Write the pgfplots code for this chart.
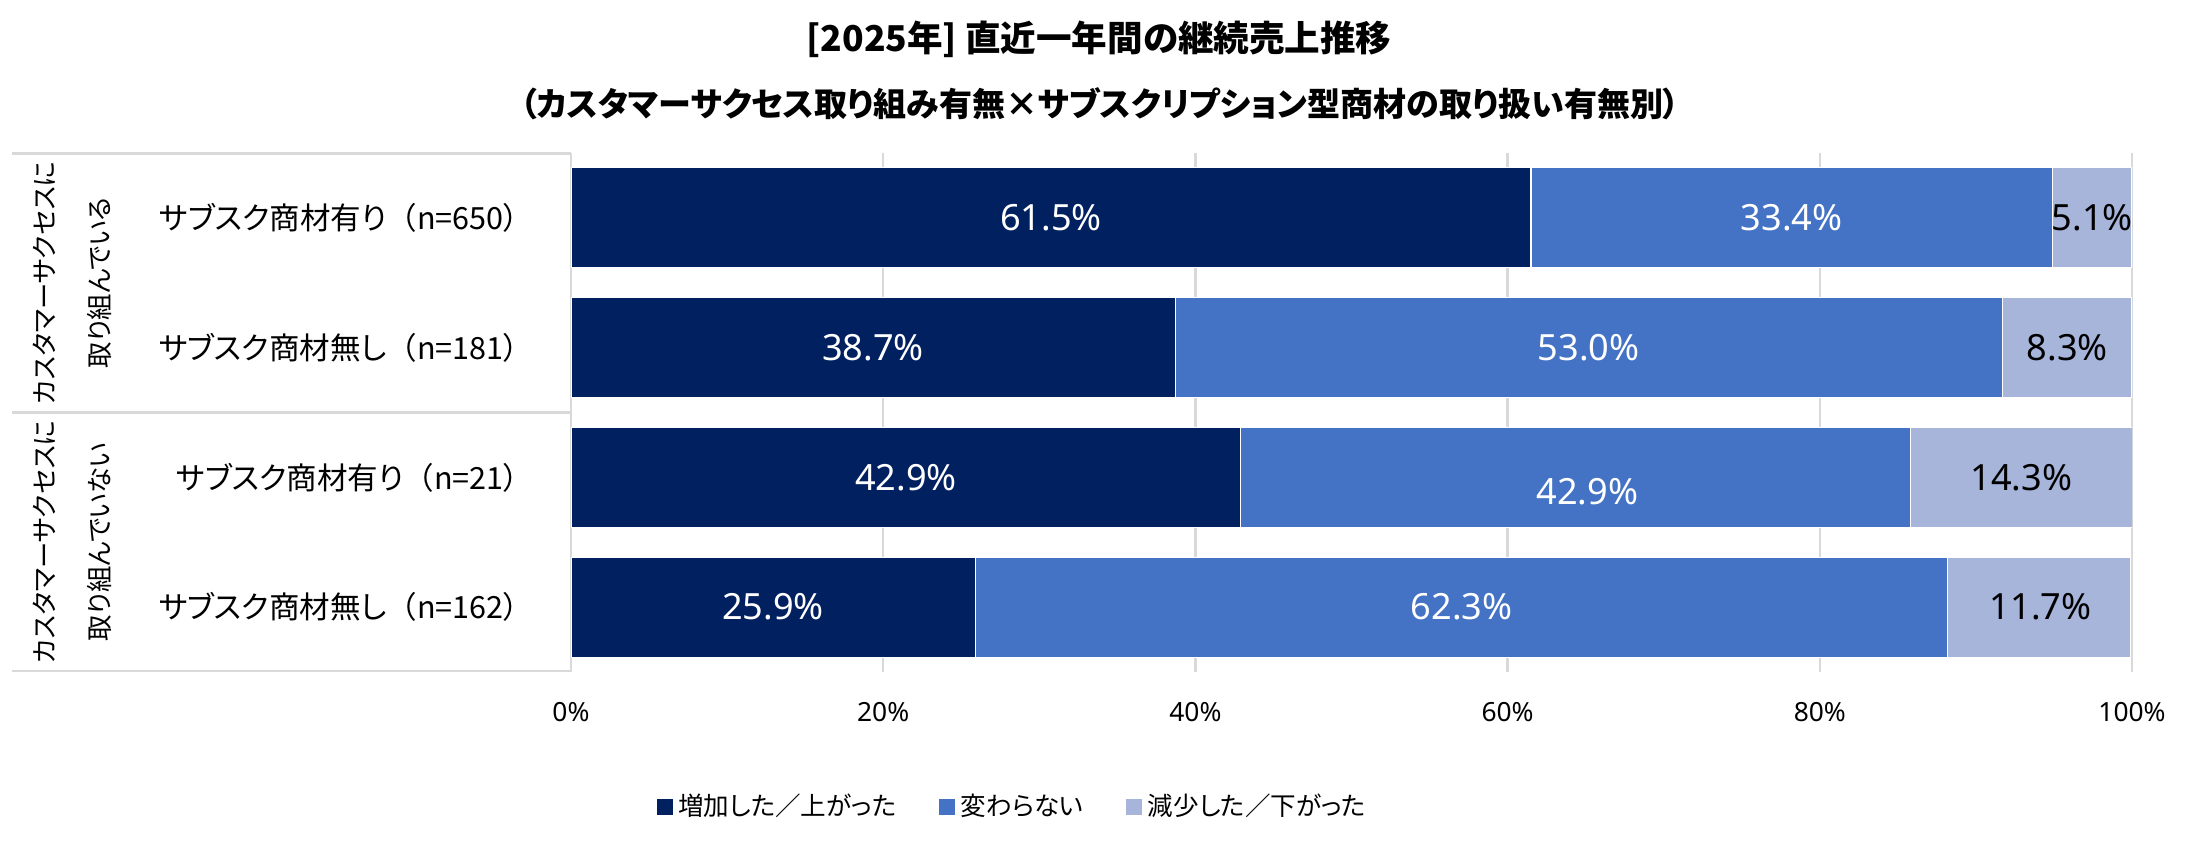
\documentclass[border=0pt]{standalone}
\usepackage{fontspec}
\usepackage{pgfplots}
\pgfplotsset{compat=1.18}
\usepackage{pgfplotstable}
\setmainfont{Noto Sans CJK JP}[RawFeature=+palt]
\newfontfamily\jpfull{Noto Sans CJK JP}
\newfontfamily\numfont{Noto Sans}
\definecolor{cA}{HTML}{002060}
\definecolor{cB}{HTML}{4472C4}
\definecolor{cC}{HTML}{A7B5DB}
\definecolor{gridc}{HTML}{D9D9D9}
\newcommand{\lp}{{\jpfull （}}

% y = row position, v = value (%), mid = centre of the segment for its label, dy = label shift (pt)
\pgfplotstableread{
y v mid dy
3 61.5 30.75 0
2 38.7 19.35 0
1 42.9 21.45 0
0 25.9 12.95 0
}\tblA
\pgfplotstableread{
y v mid dy
3 33.4 78.2 0
2 53.0 65.2 0
1 42.9 65.1 -5
0 62.3 57.05 0
}\tblB
\pgfplotstableread{
y v mid dy
3 5.1 97.45 0
2 8.3 95.85 0
1 14.3 92.9 0
0 11.7 94.15 0
}\tblC

\pgfplotsset{
  frame/.style={
    at={(205.56pt,64.08pt)}, anchor=south west,
    scale only axis, width=561.96pt, height=186.84pt,
    xmin=0, xmax=100, ymin=-0.5, ymax=3.5,
  },
  lbl/.style={
    only marks, mark=none,
    point meta=explicit,
    nodes near coords={\pgfmathprintnumber[fixed,fixed zerofill,precision=1,assume math mode=true]{\pgfplotspointmeta}\%},
    visualization depends on={\thisrow{dy}\as\ddy},
    every node near coord/.append style={anchor=center, font=\numfont\fontsize{13}{15}\selectfont, text=#1, yshift={\ddy*1pt}},
  },
}

\begin{document}
\begin{tikzpicture}[x=0.36pt,y=0.36pt]
\path[use as bounding box] (0,0) rectangle (2185,850);
\node[font=\bfseries\fontsize{12.8}{14}\selectfont] at (1099,811) {[2025年] 直近一年間の継続売上推移};
\node[font=\bfseries\fontsize{11.9}{13}\selectfont] at (1100,746) {（カスタマーサクセス取り組み有無×サブスクリプション型商材の取り扱い有無別）};
\draw[gridc, line width=0.85pt] (12,696.4) -- (571,696.4);
\draw[gridc, line width=0.85pt] (12,437.5) -- (571,437.5);
\draw[gridc, line width=0.85pt] (12,179) -- (571,179);
\node[rotate=90, align=center, font=\fontsize{9.5}{19.8}\selectfont] at (72,567) {カスタマーサクセスに\\取り組んでいる};
\node[rotate=90, align=center, font=\fontsize{9.5}{19.8}\selectfont] at (72,308) {カスタマーサクセスに\\取り組んでいない};
\begin{axis}[
  frame,
  xbar stacked, bar width=36pt,
  xtick={0,20,40,60,80,100},
  xticklabels={0\%,20\%,40\%,60\%,80\%,100\%},
  ytick={0,1,2,3},
  yticklabels={サブスク商材無し\lp n=162）, サブスク商材有り\lp n=21）, サブスク商材無し\lp n=181）, サブスク商材有り\lp n=650）},
  xmajorgrids, major grid style={gridc, line width=0.85pt},
  axis line style={draw=none},
  major tick length=0pt,
  xticklabel style={font=\numfont\fontsize{9.5}{11}\selectfont, anchor=center, yshift=-14.4pt},
  yticklabel style={font=\fontsize{11}{13}\selectfont, anchor=east, inner sep=0pt, xshift=-18.5pt},
  legend style={at={(0.2838,-0.260)}, anchor=center, legend columns=3, draw=none, fill=none, font=\fontsize{9.2}{11}\selectfont, /tikz/every even column/.append style={column sep=13.5pt}},
  legend image code/.code={\fill[#1, draw=none] (0pt,-2.88pt) rectangle (5.76pt,2.88pt);},
]
\addplot[fill=cA, draw=white, line width=0.4pt] table[x=v,y=y]{\tblA};
\addplot[fill=cB, draw=white, line width=0.4pt] table[x=v,y=y]{\tblB};
\addplot[fill=cC, draw=white, line width=0.4pt] table[x=v,y=y]{\tblC};
\legend{増加した／上がった, 変わらない, 減少した／下がった}
\end{axis}
\begin{axis}[frame, hide axis, clip=false]
\addplot[lbl=white] table[x=mid,y=y,meta=v]{\tblA};
\addplot[lbl=white] table[x=mid,y=y,meta=v]{\tblB};
\addplot[lbl=black] table[x=mid,y=y,meta=v]{\tblC};
\end{axis}
\end{tikzpicture}
\end{document}
